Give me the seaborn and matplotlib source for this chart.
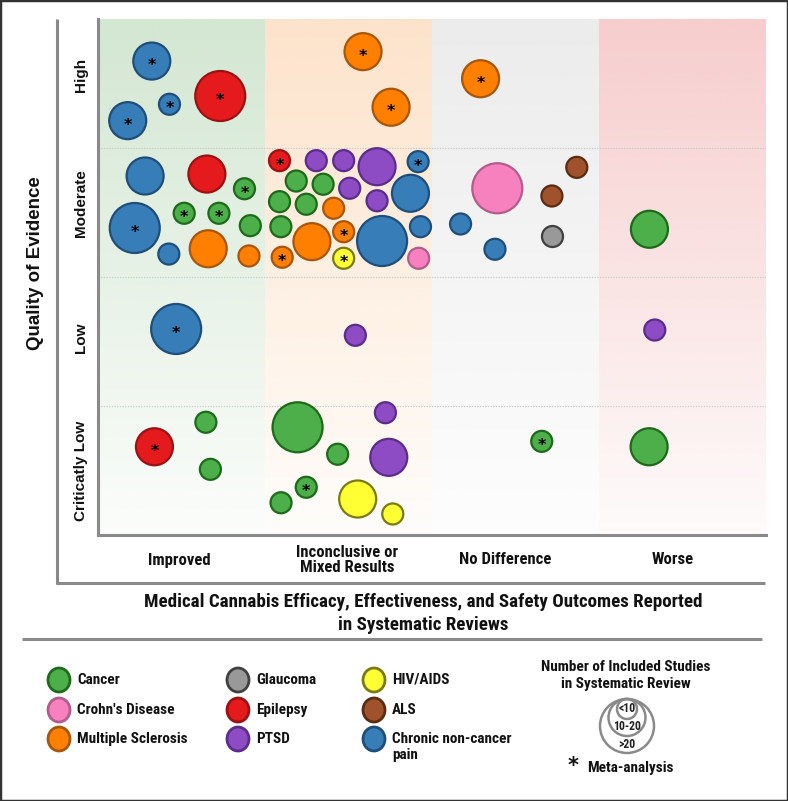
import numpy as np
import pandas as pd
import matplotlib
matplotlib.use("Agg")
import matplotlib.pyplot as plt
import seaborn as sns
from matplotlib.lines import Line2D
from matplotlib.patches import Ellipse, Circle, Rectangle
from matplotlib import transforms
from matplotlib.colors import to_rgb

# ---------------- data ----------------
outcomes = ["Improved", "Inconclusive or\nMixed Results", "No Difference", "Worse"]
outcome_tick_pos = [0.485, 1.49, 2.44, 3.44]
quality = ["Criticatly Low", "Low", "Moderate", "High"]
quality_tick_pos = [0.5, 1.53, 2.57, 3.57]

conditions = ["Cancer", "Crohn's Disease", "Multiple Sclerosis", "Glaucoma", "Epilepsy",
              "PTSD", "HIV/AIDS", "ALS", "Chronic non-cancer pain"]
fill_colors = ["#4DAF4A", "#F781BF", "#FF7F00", "#999999", "#E41A1C",
               "#8E4CC4", "#FFFF33", "#A0522D", "#377EB8"]
edge_colors = ["#1C6A1A", "#B35C8C", "#A8560C", "#404040", "#9A1214",
               "#5B2C8A", "#7A7A14", "#5A2C12", "#1F4E7A"]

size_levels = ["<10", "10-20", ">20"]
size_areas = [229, 710, 1296]

band_colors = ["#D3E7D2", "#FDE3CB", "#ECECEC", "#F7CDCD"]

bubble_condition = [
    "Chronic non-cancer pain", "Chronic non-cancer pain", "Chronic non-cancer pain", "Epilepsy",
    "Multiple Sclerosis", "Multiple Sclerosis", "Multiple Sclerosis",
    "Chronic non-cancer pain", "Epilepsy", "Cancer", "Chronic non-cancer pain", "Cancer", "Cancer",
    "Cancer", "Chronic non-cancer pain", "Multiple Sclerosis", "Multiple Sclerosis",
    "Epilepsy", "PTSD", "PTSD", "PTSD", "Chronic non-cancer pain", "Cancer", "Cancer", "PTSD",
    "Chronic non-cancer pain", "Cancer", "Cancer", "Multiple Sclerosis", "PTSD", "Cancer",
    "Multiple Sclerosis", "Multiple Sclerosis", "Chronic non-cancer pain", "Chronic non-cancer pain",
    "Multiple Sclerosis", "HIV/AIDS", "Crohn's Disease",
    "Crohn's Disease", "ALS", "ALS", "Chronic non-cancer pain", "Chronic non-cancer pain", "Glaucoma",
    "Cancer",
    "Chronic non-cancer pain", "PTSD", "PTSD",
    "Cancer", "Epilepsy", "Cancer", "Cancer", "PTSD", "Cancer", "PTSD", "Cancer", "Cancer",
    "HIV/AIDS", "HIV/AIDS", "Cancer", "Cancer",
]
bubble_x = [
    0.322, 0.428, 0.178, 0.732, 1.587, 1.755, 2.291,
    0.282, 0.652, 0.877, 0.220, 0.516, 0.724, 0.912, 0.424, 0.660, 0.904,
    1.087, 1.307, 1.471, 1.671, 1.917, 1.187, 1.348, 1.507, 1.871, 1.087, 1.247, 1.411, 1.671,
    1.095, 1.281, 1.471, 1.701, 1.931, 1.103, 1.471, 1.920,
    2.391, 2.867, 2.718, 2.171, 2.377, 2.718, 3.302,
    0.468, 1.541, 3.334,
    0.646, 0.338, 0.673, 1.195, 1.721, 1.435, 1.741, 1.247, 1.096, 1.555, 1.765, 2.657, 3.300,
]
bubble_y = [
    3.674, 3.339, 3.212, 3.403, 3.747, 3.316, 3.537,
    2.783, 2.798, 2.684, 2.380, 2.494, 2.494, 2.398, 2.178, 2.219, 2.163,
    2.902, 2.902, 2.902, 2.855, 2.894, 2.744, 2.719, 2.688, 2.649, 2.584, 2.564, 2.533, 2.591,
    2.390, 2.274, 2.351, 2.279, 2.390, 2.153, 2.145, 2.145,
    2.688, 2.850, 2.628, 2.411, 2.215, 2.320, 2.370,
    1.597, 1.548, 1.589,
    0.874, 0.684, 0.509, 0.835, 0.948, 0.626, 0.602, 0.370, 0.250, 0.279, 0.163, 0.726, 0.684,
]
bubble_size = [
    "10-20", "<10", "10-20", ">20", "10-20", "10-20", "10-20",
    "10-20", "10-20", "<10", ">20", "<10", "<10", "<10", "<10", "10-20", "<10",
    "<10", "<10", "<10", "10-20", "<10", "<10", "<10", "<10", "10-20", "<10", "<10", "<10", "<10",
    "<10", "10-20", "<10", ">20", "<10", "<10", "<10", "<10",
    ">20", "<10", "<10", "<10", "<10", "<10", "10-20",
    ">20", "<10", "<10",
    "<10", "10-20", "<10", ">20", "<10", "<10", "10-20", "<10", "<10", "10-20", "<10", "<10", "10-20",
]
bubble_meta = [
    1, 1, 1, 1, 1, 1, 1,
    0, 0, 1, 1, 1, 1, 0, 0, 0, 0,
    1, 0, 0, 0, 1, 0, 0, 0, 0, 0, 0, 0, 0,
    0, 0, 1, 0, 0, 1, 1, 0,
    0, 0, 0, 0, 0, 0, 0,
    1, 0, 0,
    0, 1, 0, 0, 0, 0, 0, 1, 0, 0, 0, 1, 0,
]

df = pd.DataFrame({"condition": bubble_condition, "x": bubble_x, "y": bubble_y,
                   "size": bubble_size, "meta": bubble_meta})

# ---------------- figure ----------------
sns.set_style("white")
NARROW = ["Roboto Condensed", "Liberation Sans", "DejaVu Sans"]
plt.rcParams["font.family"] = ["Liberation Sans", "DejaVu Sans"]

W, H = 788, 801
fig = plt.figure(figsize=(W / 100, H / 100), dpi=100)
fig.patch.set_facecolor("white")

def fx(px):
    return px / W

def fy(py):
    return 1 - py / H

ax = fig.add_axes([fx(98), fy(535), fx(766) - fx(98), fy(19) - fy(535)])

# gradient bands
n = 256
alpha = np.linspace(1.0, 0.08, n)
for i, c in enumerate(band_colors):
    rgb = np.array(to_rgb(c))
    img = np.ones((n, 1, 4))
    img[:, 0, :3] = rgb
    img[:, 0, 3] = alpha
    ax.imshow(img, extent=(i, i + 1, 0, 4), aspect="auto", origin="upper",
              zorder=0, interpolation="bilinear")

for yy in [1, 2, 3]:
    ax.axhline(yy, color="#c9c9c9", lw=0.8, ls=(0, (1.2, 1.2)), zorder=1)

size_map = dict(zip(size_levels, size_areas))
for cond, fc, ec in zip(conditions, fill_colors, edge_colors):
    sub = df[df["condition"] == cond]
    if len(sub) == 0:
        continue
    sns.scatterplot(data=sub, x="x", y="y", size="size", sizes=size_map,
                    size_order=size_levels, color=fc, edgecolor=ec, linewidth=1.6,
                    alpha=1, legend=False, ax=ax, zorder=3)

star_fs = 11.5
star_tr = transforms.offset_copy(ax.transData, fig=fig, y=-0.56 * star_fs, units="points")
for _, r in df[df["meta"] == 1].iterrows():
    ax.text(r["x"], r["y"], "*", transform=star_tr, ha="center", va="baseline",
            fontsize=star_fs, fontweight="bold", family="DejaVu Sans", color="black", zorder=4)

ax.set_xlim(0, 4)
ax.set_ylim(0, 4)
ax.set_xlabel("")
ax.set_ylabel("")
for s in ["top", "right"]:
    ax.spines[s].set_visible(False)
for s in ["left", "bottom"]:
    ax.spines[s].set_color("#8a8a8a")
    ax.spines[s].set_linewidth(2.2)

ax.set_xticks(outcome_tick_pos)
ax.set_xticklabels(outcomes, family=NARROW, fontweight="bold", fontsize=12,
                   va="center", ha="center", linespacing=1.05, color="#111111")
ax.set_yticks(quality_tick_pos)
ax.set_yticklabels(quality, rotation=90, va="center", fontweight="bold", fontsize=11,
                   color="#111111")
ax.tick_params(axis="x", length=0, pad=18)
ax.tick_params(axis="y", length=0, pad=7)

# y title
fig.text(fx(36), fy(263), "Quality of Evidence", rotation=90, ha="center", va="center",
         fontsize=13.5, fontweight="bold", color="#111111")

# outer L frame and separator
lc = "#8a8a8a"
fig.add_artist(Line2D([fx(57), fx(57)], [fy(19), fy(584)], transform=fig.transFigure,
                      color=lc, lw=2.2, solid_capstyle="butt"))
fig.add_artist(Line2D([fx(56), fx(765)], [fy(583), fy(583)], transform=fig.transFigure,
                      color=lc, lw=2.2, solid_capstyle="butt"))
fig.add_artist(Line2D([fx(22), fx(762)], [fy(639), fy(639)], transform=fig.transFigure,
                      color=lc, lw=2.2, solid_capstyle="butt"))

# x title
fig.text(fx(423), fy(602), "Medical Cannabis Efficacy, Effectiveness, and Safety Outcomes Reported",
         ha="center", va="center", fontsize=13.7, fontweight="bold", family=NARROW, color="#111111")
fig.text(fx(423), fy(625), "in Systematic Reviews",
         ha="center", va="center", fontsize=13.7, fontweight="bold", family=NARROW, color="#111111")

# ---------------- legend (overlay in pixel coords) ----------------
lax = fig.add_axes([0, 0, 1, 1], zorder=5)
lax.set_xlim(0, W)
lax.set_ylim(H, 0)
lax.axis("off")
lax.patch.set_alpha(0)

col_x = [59, 238, 374]
row_y = [680, 710, 739]
legend_layout = [(0, 0), (0, 1), (0, 2), (1, 0), (1, 1), (1, 2), (2, 0), (2, 1), (2, 2)]
for cond, fc, ec, (ci, ri) in zip(conditions, fill_colors, edge_colors, legend_layout):
    cx, cy = col_x[ci], row_y[ri]
    lax.add_patch(Ellipse((cx, cy), 22, 24, facecolor=fc, edgecolor=ec, lw=2))
    if cond == "Chronic non-cancer pain":
        lax.text(cx + 18, cy, "Chronic non-cancer", ha="left", va="center", fontsize=11,
                 fontweight="bold", family=NARROW, color="#111111")
        lax.text(cx + 18, cy + 16, "pain", ha="left", va="center", fontsize=11,
                 fontweight="bold", family=NARROW, color="#111111")
    else:
        lax.text(cx + 18, cy, cond, ha="left", va="center", fontsize=11,
                 fontweight="bold", family=NARROW, color="#111111")

# size legend
lax.text(626, 667, "Number of Included Studies", ha="center", va="center", fontsize=11,
         fontweight="bold", family=NARROW, color="#111111")
lax.text(626, 684, "in Systematic Review", ha="center", va="center", fontsize=11,
         fontweight="bold", family=NARROW, color="#111111")
top = 699
for d, lab, ly in zip([54, 37, 20], [">20", "10-20", "<10"], [745, 727, 708]):
    lax.add_patch(Circle((627, top + d / 2), d / 2, facecolor="none", edgecolor="#8a8a8a", lw=1.8))
    lax.text(627, ly, lab, ha="center", va="center", fontsize=8.5, fontweight="bold",
             family=NARROW, color="#222222")
lax.text(573, 766, "*", ha="center", va="center", fontsize=15, fontweight="bold",
         family="DejaVu Sans", color="#111111")
lax.text(587, 768, "Meta-analysis", ha="left", va="center", fontsize=11, fontweight="bold",
         family=NARROW, color="#111111")

# figure border
fig.patches.append(Rectangle((0, 0), 1, 1, transform=fig.transFigure, fill=False,
                             edgecolor="#333333", lw=2.5))

fig.savefig("out.png", dpi=100)
